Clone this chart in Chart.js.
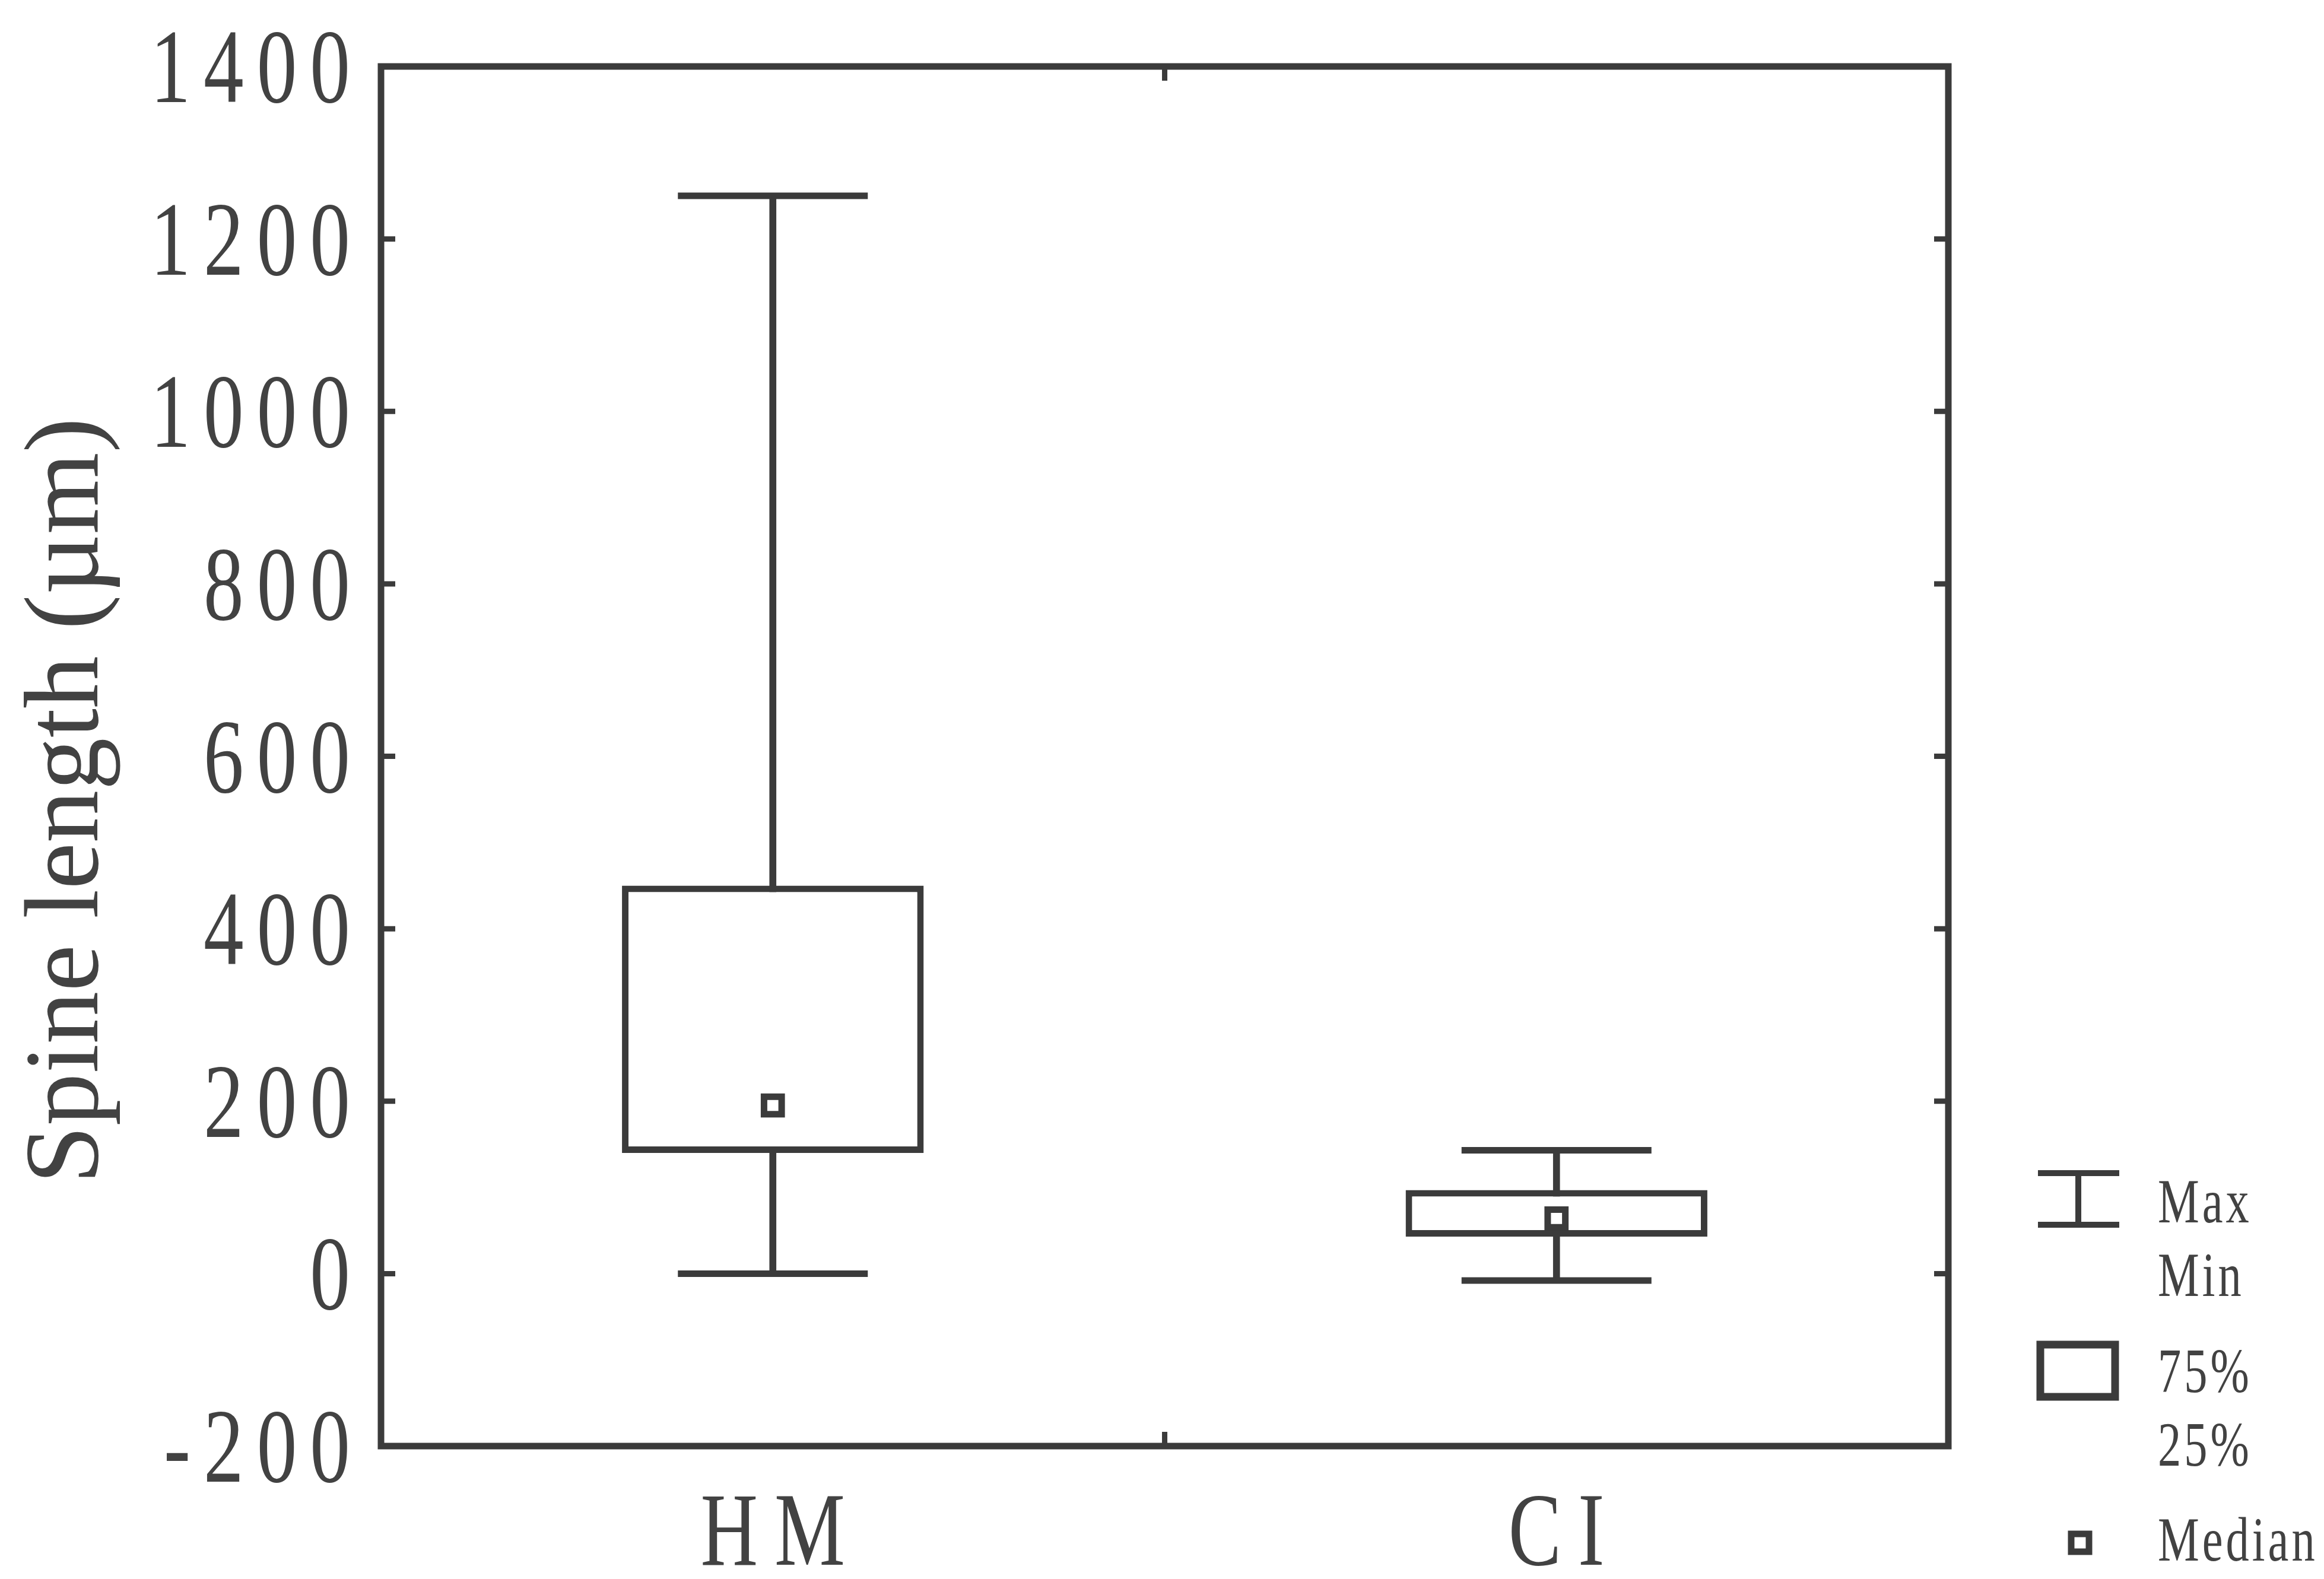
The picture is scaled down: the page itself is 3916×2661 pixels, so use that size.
<!DOCTYPE html>
<html>
<head>
<meta charset="utf-8">
<title>Spine length</title>
<script src="https://cdn.jsdelivr.net/npm/chart.js@4/dist/chart.umd.min.js"></script>
<style>
  html, body { margin: 0; padding: 0; background: #ffffff; }
  #wrap { width: 3916px; height: 2661px; }
</style>
</head>
<body>
<div id="wrap"><canvas id="chart" width="3916" height="2661"></canvas></div>
<script>
// Box plot data: spine length (µm) per group
const categories   = ['HM', 'CI'];
const maxValues    = [1250, 143];
const q3Values     = [450, 97];
const medianValues = [195, 64];
const q1Values     = [140, 43];
const minValues    = [0, -8];

const yTicks = [-200, 0, 200, 400, 600, 800, 1000, 1200, 1400];
const yTitle = 'Spine length (\u00b5m)';
const legendLabels = ['Max', 'Min', '75%', '25%', 'Median'];

const INK = '#3b3b3b';
const TEXT = '#424242';
const SERIF = '"Liberation Serif", "DejaVu Serif", serif';
const LW = 11;

// Condensed, letter-spaced serif text (tick labels, categories, legend)
function spacedText(ctx, text, x, y, size, sx, gap, align) {
  ctx.font = size + 'px ' + SERIF;
  const chars = Array.from(text);
  const widths = chars.map(c => ctx.measureText(c).width * sx);
  const total = widths.reduce((a, b) => a + b, 0) + gap * (chars.length - 1);
  let cx = x;
  if (align === 'right') cx = x - total;
  else if (align === 'center') cx = x - total / 2;
  chars.forEach((c, i) => {
    ctx.save();
    ctx.translate(cx, y);
    ctx.scale(sx, 1);
    ctx.fillText(c, 0, 0);
    ctx.restore();
    cx += widths[i] + gap;
  });
}

const framePlugin = {
  id: 'frameAndText',
  afterDraw(chart) {
    const ctx = chart.ctx;
    const area = chart.chartArea;
    const xs = chart.scales.x;
    const ys = chart.scales.y;
    ctx.save();

    // plot frame
    ctx.strokeStyle = INK;
    ctx.lineWidth = LW;
    ctx.lineJoin = 'miter';
    ctx.strokeRect(area.left, area.top, area.right - area.left, area.bottom - area.top);

    // inward tick marks
    ctx.lineWidth = 9;
    const tl = 24;
    yTicks.forEach(v => {
      const py = ys.getPixelForValue(v);
      ctx.beginPath();
      ctx.moveTo(area.left, py); ctx.lineTo(area.left + tl, py);
      ctx.moveTo(area.right, py); ctx.lineTo(area.right - tl, py);
      ctx.stroke();
    });
    for (let i = 0; i < categories.length - 1; i++) {
      const px = (xs.getPixelForValue(i) + xs.getPixelForValue(i + 1)) / 2;
      ctx.beginPath();
      ctx.moveTo(px, area.top); ctx.lineTo(px, area.top + tl);
      ctx.moveTo(px, area.bottom); ctx.lineTo(px, area.bottom - tl);
      ctx.stroke();
    }

    // y tick labels
    ctx.fillStyle = TEXT;
    ctx.textBaseline = 'alphabetic';
    ctx.textAlign = 'left';
    yTicks.forEach(v => {
      const py = ys.getPixelForValue(v);
      spacedText(ctx, String(v), area.left - 52, py + 60, 178, 0.76, 22, 'right');
    });

    // category labels
    categories.forEach((c, i) => {
      spacedText(ctx, c, xs.getPixelForValue(i), area.bottom + 200, 176, 0.76, 28, 'center');
    });

    // y axis title
    ctx.save();
    ctx.translate(164, (area.top + area.bottom) / 2 + 75);
    ctx.rotate(-Math.PI / 2);
    ctx.font = '177px ' + SERIF;
    ctx.textAlign = 'center';
    ctx.fillText(yTitle, 0, 0);
    ctx.restore();

    // legend
    const lx = area.right + 151;
    ctx.strokeStyle = INK;
    ctx.lineWidth = 10;
    // whisker symbol
    ctx.beginPath();
    ctx.moveTo(lx, 1977); ctx.lineTo(lx + 137, 1977);
    ctx.moveTo(lx, 2064); ctx.lineTo(lx + 137, 2064);
    ctx.moveTo(lx + 68, 1977); ctx.lineTo(lx + 68, 2064);
    ctx.stroke();
    // box symbol
    ctx.lineWidth = 13;
    ctx.strokeRect(lx + 4, 2266, 126, 88);
    // median symbol
    ctx.lineWidth = 11;
    ctx.strokeRect(lx + 56, 2585, 30, 30);

    const tx = area.right + 353;
    const baselines = [2060, 2184, 2346, 2470, 2630];
    legendLabels.forEach((t, i) => {
      spacedText(ctx, t, tx, baselines[i], 106, 0.74, 5, 'left');
    });
    ctx.restore();
  }
};

const boxes = categories.map((c, i) => [q1Values[i], q3Values[i]]);
const stems = categories.map((c, i) => [minValues[i], maxValues[i]]);

new Chart(document.getElementById('chart'), {
  type: 'bar',
  data: {
    labels: categories,
    datasets: [
      {
        label: 'Min-Max',
        data: stems,
        backgroundColor: INK,
        borderWidth: 0,
        barThickness: LW,
        grouped: false,
        order: 4
      },
      {
        label: '25%-75%',
        data: boxes,
        backgroundColor: '#ffffff',
        borderColor: INK,
        borderWidth: LW,
        borderSkipped: false,
        barPercentage: 0.385,
        categoryPercentage: 1,
        grouped: false,
        order: 3
      },
      {
        type: 'line',
        label: 'Max',
        data: maxValues,
        showLine: false,
        pointStyle: 'line',
        pointRadius: 160,
        pointBorderWidth: LW,
        pointBorderColor: INK,
        order: 2
      },
      {
        type: 'line',
        label: 'Min',
        data: minValues,
        showLine: false,
        pointStyle: 'line',
        pointRadius: 160,
        pointBorderWidth: LW,
        pointBorderColor: INK,
        order: 2
      },
      {
        type: 'line',
        label: 'Median',
        data: medianValues,
        showLine: false,
        pointStyle: 'rect',
        pointRadius: 21,
        pointBorderWidth: 11,
        pointBorderColor: INK,
        pointBackgroundColor: '#ffffff',
        order: 1
      }
    ]
  },
  options: {
    responsive: false,
    animation: false,
    events: [],
    layout: { autoPadding: false, padding: { left: 642, top: 112, right: 633, bottom: 224 } },
    scales: {
      x: { display: false, offset: true },
      y: { display: false, min: -200, max: 1400 }
    },
    plugins: {
      legend: { display: false },
      tooltip: { enabled: false }
    }
  },
  plugins: [framePlugin]
});
</script>
</body>
</html>
